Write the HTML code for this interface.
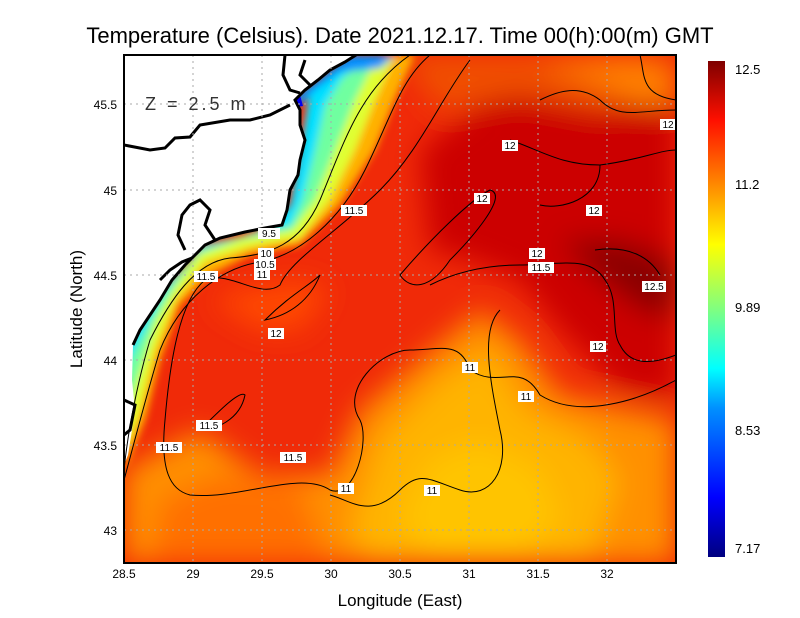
<!DOCTYPE html>
<html><head><meta charset="utf-8"><style>
body{margin:0;background:#fff;}
svg{display:block;font-family:"Liberation Sans",sans-serif;}
</style></head><body>
<svg width="800" height="618" viewBox="0 0 800 618" xmlns="http://www.w3.org/2000/svg">
<defs>
<clipPath id="pc"><rect x="124" y="55" width="552" height="508"/></clipPath>
<filter id="b1" x="-20%" y="-20%" width="140%" height="140%"><feGaussianBlur stdDeviation="14"/></filter>
<filter id="b2" x="-20%" y="-20%" width="140%" height="140%"><feGaussianBlur stdDeviation="4"/></filter>
<linearGradient id="cb" x1="0" y1="1" x2="0" y2="0">
<stop offset="0" stop-color="#00007f"/><stop offset="0.12" stop-color="#0000ff"/>
<stop offset="0.3" stop-color="#0090ff"/><stop offset="0.38" stop-color="#00ffff"/>
<stop offset="0.5" stop-color="#80ff80"/><stop offset="0.63" stop-color="#ffff00"/>
<stop offset="0.76" stop-color="#ff8000"/><stop offset="0.88" stop-color="#ff1000"/>
<stop offset="1" stop-color="#7f0000"/></linearGradient>
</defs>
<text x="400" y="43" font-size="22" text-anchor="middle">Temperature (Celsius). Date 2021.12.17. Time 00(h):00(m)  GMT</text>
<g clip-path="url(#pc)">
<rect x="124" y="55" width="552" height="508" fill="#f02a08"/>
<g filter="url(#b1)">
<path d="M124 470 L200 430 L260 475 L330 475 L360 410 L420 360 L480 310 L520 340 L560 395 L676 420 L676 563 L124 563Z" fill="#ff9000"/>
<path d="M350 530 L380 440 L440 380 L490 350 L525 410 L590 440 L620 480 L590 563 L370 563Z" fill="#ffb400"/>
<path d="M400 520 L430 460 L480 440 L540 470 L560 520 L520 555 L430 555Z" fill="#ffc400"/>
<path d="M150 563 L160 500 L220 475 L300 485 L330 563Z" fill="#ff7000"/>
<path d="M420 150 L500 90 L676 80 L676 400 L620 390 L560 330 L520 280 L470 260 L430 250Z" fill="#cc0606"/>
<path d="M560 240 L620 240 L676 260 L676 320 L640 310 L590 270Z" fill="#8a0000"/>
<path d="M400 55 L676 55 L676 100 L600 110 L520 95 L440 110Z" fill="#f05000"/>
<path d="M540 65 L640 58 L676 70 L676 105 L640 105 L600 85Z" fill="#ff8000"/>
<path d="M210 300 L260 330 L300 330 L330 290 L300 280 L240 290Z" fill="#ff4a00"/>
</g>
<g filter="url(#b2)">
<path d="M360 55 L415 55 L395 100 L375 150 L340 205 L300 245 L250 255 L210 275 L180 305 L160 360 L145 420 L124 470 L124 340 L160 290 L200 250 L260 230 L290 205 L300 150 L310 90Z" fill="#ffb000"/>
<path d="M355 55 L395 55 L375 100 L355 150 L330 200 L300 238 L250 247 L205 262 L175 300 L155 350 L140 410 L124 455 L124 340 L160 290 L200 250 L260 230 L290 205 L300 150 L310 90Z" fill="#e0ff30"/>
<path d="M355 55 L378 55 L355 100 L335 150 L315 200 L292 230 L240 240 L200 254 L175 287 L155 322 L140 370 L124 420 L124 340 L160 290 L200 250 L260 230 L290 205 L300 150 L310 90Z" fill="#70ffa0"/>
<path d="M350 55 L372 55 L342 78 L325 105 L315 150 L302 200 L290 226 L200 245 L160 300 L124 370 L124 340 L160 290 L200 250 L260 230 L290 205 L300 150 L310 90Z" fill="#00e0ff"/>
<path d="M350 55 L395 55 L380 68 L340 72 L315 90 L300 105 L290 100Z" fill="#0090ff"/>
</g>
<path d="M285 98 L300 95 L303 106 L290 108Z" fill="#0000ee"/>
<!-- land -->
<path d="M124 55 L356 55 L345 62 L330 70 L318 80 L305 90 L295 100 L300 110 L300 125 L305 140 L300 160 L298 175 L290 190 L287 210 L282 225 L265 228 L245 232 L220 238 L205 245 L195 255 L185 265 L172 280 L160 300 L150 315 L140 330 L133 345 L132 380 L134 400 L132 430 L128 455 L124 465Z" fill="#fff"/>
<g fill="none" stroke="#000" stroke-width="3">
<path d="M356 55 L345 62 L330 70 L318 80 L305 90 L295 100 L300 110 L300 125 L305 140 L300 160 L298 175 L290 190 L287 210 L282 225 L265 228 L245 232 L220 238 L205 245 L195 255 L185 265 L172 280 L160 300 L150 315 L140 330 L133 345"/>
<path d="M124 145 L150 150 L165 148 L175 138 L190 137 L200 125 L230 120 L250 120 L270 115 L290 105"/>
<path d="M285 55 L283 75 L290 90 L300 93"/>
<path d="M305 60 L300 75 L310 85"/>
<path d="M185 250 L178 235 L182 215 L190 205 L200 200 L210 210 L205 225 L215 240"/>
<path d="M160 280 L170 270 L182 262 L192 258"/>
<path d="M124 400 L135 405 L130 430 L124 435"/>
</g>
<!-- grid -->
<g stroke="#aaa" stroke-width="1" stroke-dasharray="2,4">
<line x1="193" y1="55" x2="193" y2="563"/><line x1="262" y1="55" x2="262" y2="563"/><line x1="331" y1="55" x2="331" y2="563"/><line x1="400" y1="55" x2="400" y2="563"/><line x1="469" y1="55" x2="469" y2="563"/><line x1="538" y1="55" x2="538" y2="563"/><line x1="607" y1="55" x2="607" y2="563"/>
<line x1="124" y1="104" x2="676" y2="104"/><line x1="124" y1="190" x2="676" y2="190"/><line x1="124" y1="275" x2="676" y2="275"/><line x1="124" y1="360" x2="676" y2="360"/><line x1="124" y1="445" x2="676" y2="445"/><line x1="124" y1="530" x2="676" y2="530"/>
</g>
<!-- contours -->
<g fill="none" stroke="#000" stroke-width="1">
<path d="M410 55 C360 90 345 140 320 200 C300 245 270 255 230 258 C195 262 170 300 150 340 C138 380 128 430 124 470"/>
<path d="M430 55 C400 80 390 120 365 170 C340 220 300 255 260 262 C220 268 180 300 160 350 C145 400 135 440 124 480"/>
<path d="M470 60 C440 100 420 150 380 190 C340 230 290 260 280 285 C260 300 230 270 205 280 C180 300 170 360 165 420 C160 470 170 490 190 495 C240 500 300 470 330 490 C355 500 370 440 360 420 C340 390 380 350 410 350 C440 350 460 340 470 370 C500 390 520 360 540 395 C580 420 640 400 676 380"/>
<path d="M500 310 C480 330 490 380 500 430 C510 470 490 500 460 490 C430 480 420 470 400 490 C370 520 350 500 330 495"/>
<path d="M400 275 C430 240 470 200 490 190 C510 195 470 240 450 260 C430 290 410 290 400 275Z"/>
<path d="M510 140 C540 150 560 165 600 165 C640 160 660 150 676 150"/>
<path d="M540 100 C560 90 580 85 600 100 C620 120 640 110 676 110"/>
<path d="M640 55 C645 75 640 95 676 100"/>
<path d="M430 285 C460 270 490 265 520 265 C560 265 590 255 605 280 C620 300 610 330 620 345 C630 365 650 365 676 355"/>
<path d="M595 250 C630 245 650 258 660 275"/>
<path d="M600 165 C600 200 560 210 540 205"/>
<path d="M265 320 C290 295 310 285 320 275 C310 300 290 315 265 320Z"/>
<path d="M200 430 C220 410 240 390 245 395 C240 420 215 430 200 430Z"/>
</g>
<g font-size="10" text-anchor="middle">
<g fill="#fff"><rect x="258" y="228" width="22" height="11"/><rect x="258" y="248" width="16" height="11"/><rect x="254" y="259" width="22" height="11"/><rect x="254" y="269" width="16" height="11"/><rect x="194" y="271" width="24" height="11"/><rect x="341" y="205" width="26" height="11"/><rect x="474" y="193" width="16" height="11"/><rect x="502" y="140" width="16" height="11"/><rect x="586" y="205" width="16" height="11"/><rect x="529" y="248" width="16" height="11"/><rect x="528" y="262" width="26" height="11"/><rect x="642" y="281" width="24" height="11"/><rect x="660" y="119" width="16" height="11"/><rect x="590" y="341" width="16" height="11"/><rect x="268" y="328" width="16" height="11"/><rect x="462" y="362" width="16" height="11"/><rect x="518" y="391" width="16" height="11"/><rect x="196" y="420" width="26" height="11"/><rect x="156" y="442" width="26" height="11"/><rect x="280" y="452" width="26" height="11"/><rect x="338" y="483" width="16" height="11"/><rect x="424" y="485" width="16" height="11"/></g>
<text x="269" y="237">9.5</text><text x="266" y="257">10</text><text x="265" y="268">10.5</text><text x="262" y="278">11</text><text x="206" y="280">11.5</text><text x="354" y="214">11.5</text><text x="482" y="202">12</text><text x="510" y="149">12</text><text x="594" y="214">12</text><text x="537" y="257">12</text><text x="541" y="271">11.5</text><text x="654" y="290">12.5</text><text x="668" y="128">12</text><text x="598" y="350">12</text><text x="276" y="337">12</text><text x="470" y="371">11</text><text x="526" y="400">11</text><text x="209" y="429">11.5</text><text x="169" y="451">11.5</text><text x="293" y="461">11.5</text><text x="346" y="492">11</text><text x="432" y="494">11</text>
</g>
</g>
<text x="145" y="110" font-size="18" fill="#333" letter-spacing="3">Z = 2.5 m</text>
<rect x="124" y="55" width="552" height="508" fill="none" stroke="#000" stroke-width="2"/>
<g font-size="12" text-anchor="end">
<text x="117" y="109">45.5</text><text x="117" y="195">45</text><text x="117" y="280">44.5</text><text x="117" y="365">44</text><text x="117" y="450">43.5</text><text x="117" y="535">43</text>
</g>
<g font-size="12" text-anchor="middle">
<text x="124" y="578">28.5</text><text x="193" y="578">29</text><text x="262" y="578">29.5</text><text x="331" y="578">30</text><text x="400" y="578">30.5</text><text x="469" y="578">31</text><text x="538" y="578">31.5</text><text x="607" y="578">32</text>
</g>
<text x="400" y="606" font-size="17" text-anchor="middle">Longitude (East)</text>
<text transform="translate(82,309) rotate(-90)" font-size="17" text-anchor="middle">Latitude (North)</text>
<rect x="708" y="61" width="17" height="496" fill="url(#cb)"/>
<g font-size="13">
<text x="735" y="74">12.5</text><text x="735" y="189">11.2</text><text x="735" y="312">9.89</text><text x="735" y="435">8.53</text><text x="735" y="553">7.17</text>
</g>
</svg>
</body></html>
